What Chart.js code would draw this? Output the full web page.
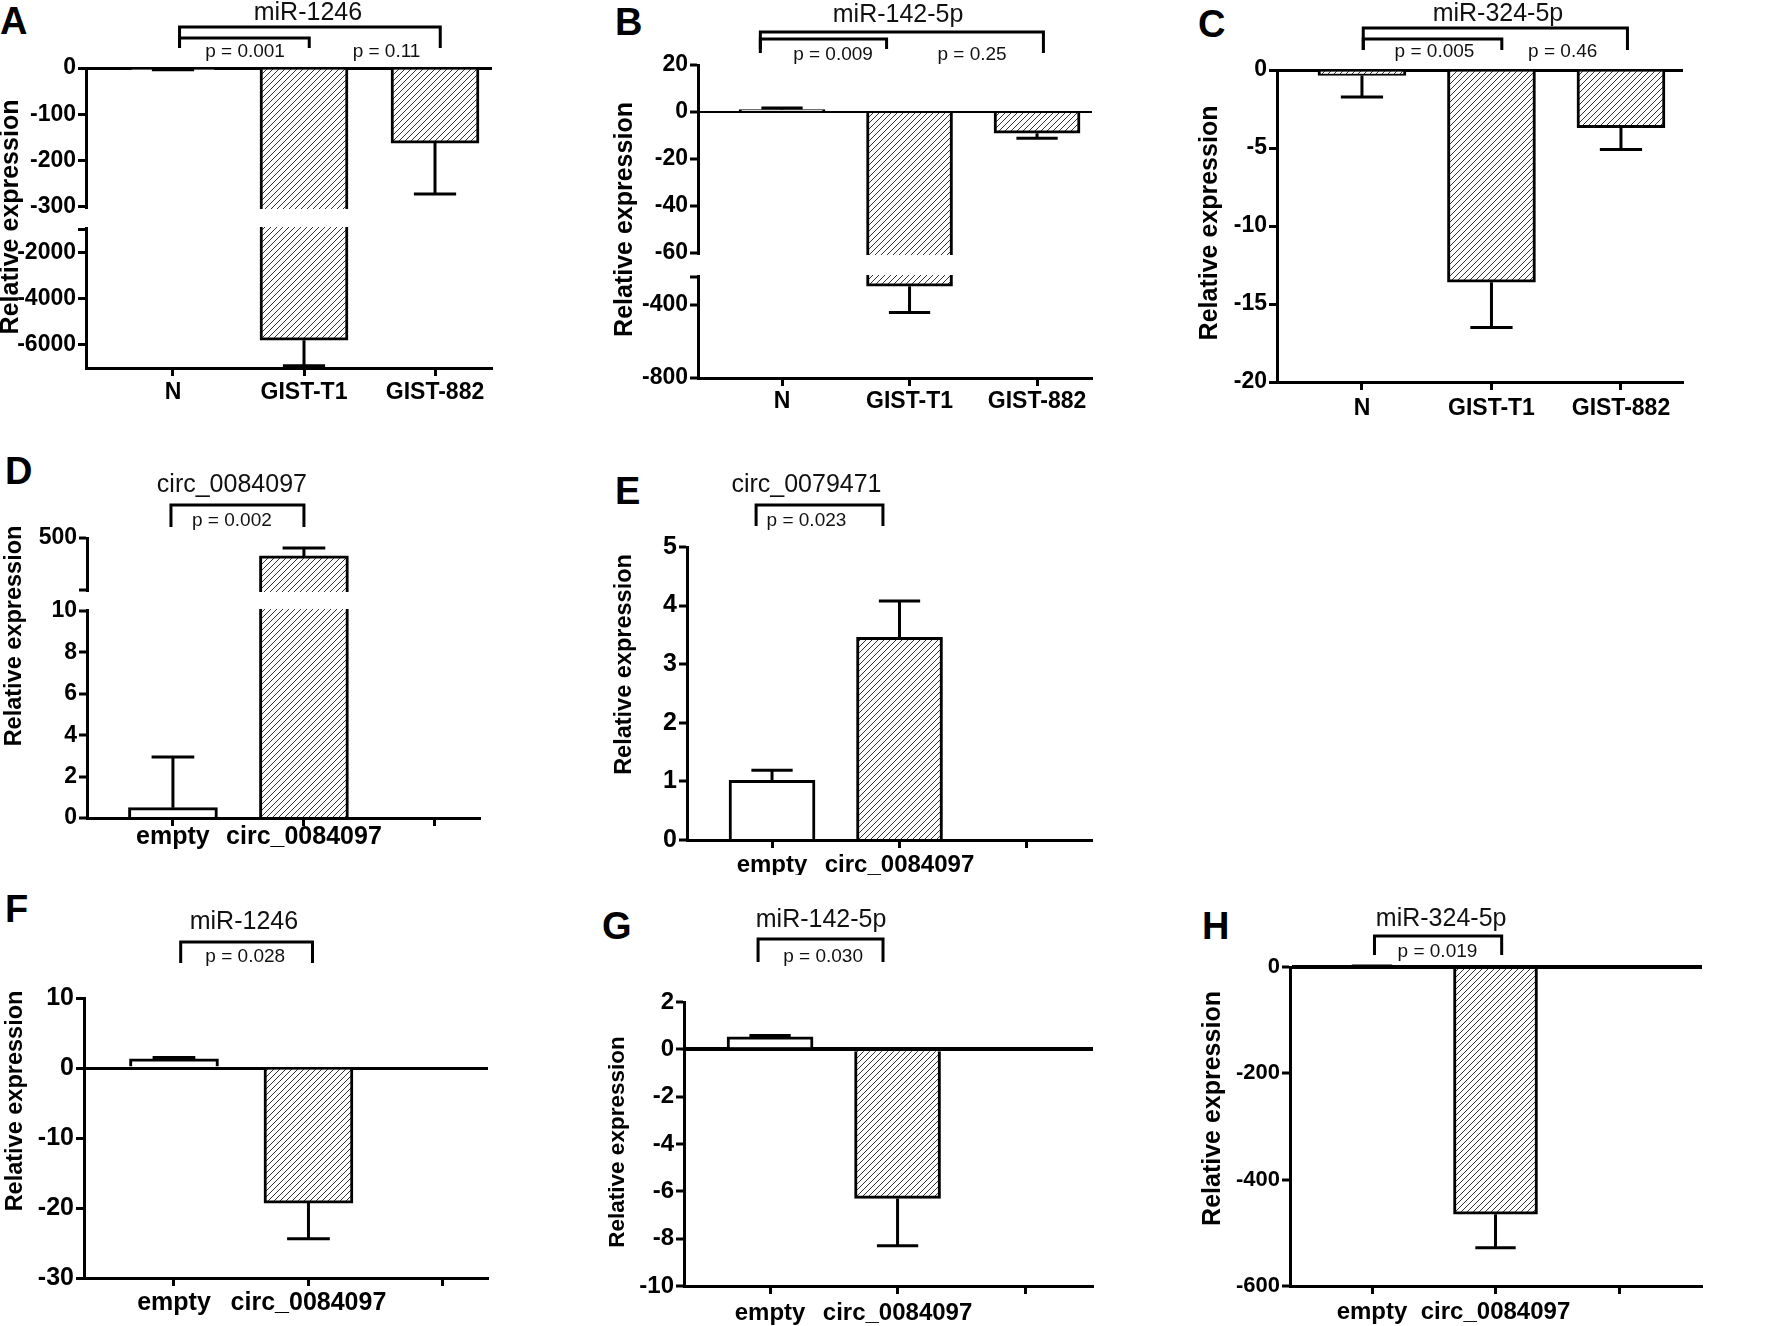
<!DOCTYPE html>
<html lang="en">
<head>
<meta charset="UTF-8">
<title>Relative expression panels</title>
<script src="https://cdn.jsdelivr.net/npm/chart.js"></script>
<style>
  body { margin: 0; background: #fff; width: 1772px; height: 1326px; position: relative; overflow: hidden; font-family: 'Liberation Sans', Arial, sans-serif; }
  canvas { position: absolute; }
  .tag { position: absolute; font-weight: bold; font-size: 38px; line-height: 1; color: #000; }
</style>
</head>
<body>
<div class="tag" style="left:0px;top:2px">A</div>
<div class="tag" style="left:615px;top:3px">B</div>
<div class="tag" style="left:1198px;top:5px">C</div>
<div class="tag" style="left:5px;top:452px">D</div>
<div class="tag" style="left:615px;top:472px">E</div>
<div class="tag" style="left:5px;top:890px">F</div>
<div class="tag" style="left:602px;top:907px">G</div>
<div class="tag" style="left:1202px;top:907px">H</div>
<script>
const FONT = "'Liberation Sans', Arial, sans-serif";

// categories
const catsGIST = ['N', 'GIST-T1', 'GIST-882'];
const catsCirc = ['empty', 'circ_0084097', ''];

// A  miR-1246 in cell lines
const meanA = [-3, -5800, -162];
const errA = [1, 1100, 110];
const yTicksA = [0, -100, -200, -300, -1000, -2000, -4000, -6000];
const yLabelsA = ['0', '-100', '-200', '-300', '', '-2000', '-4000', '-6000'];

// B  miR-142-5p in cell lines
const meanB = [1, -300, -9];
const errB = [0.7, 143, 2.2];
const yTicksB = [20, 0, -20, -40, -60, -250, -400, -800];
const yLabelsB = ['20', '0', '-20', '-40', '-60', '', '-400', '-800'];

// C  miR-324-5p in cell lines
const meanC = [-0.35, -13.6, -3.7];
const errC = [1.38, 2.9, 1.4];
const yTicksC = [0, -5, -10, -15, -20];
const yLabelsC = ['0', '-5', '-10', '-15', '-20'];

// D  circ_0084097 after overexpression
const meanD = [0.5, 362];
const errD = [2.45, 61];
const yTicksD = [0, 2, 4, 6, 8, 10, 100, 500];
const yLabelsD = ['0', '2', '4', '6', '8', '10', '', '500'];

// E  circ_0079471
const meanE = [1.02, 3.46];
const errE = [0.17, 0.62];
const yTicksE = [0, 1, 2, 3, 4, 5];
const yLabelsE = ['0', '1', '2', '3', '4', '5'];

// F  miR-1246
const meanF = [1.3, -19.3];
const errF = [0.2, 5.1];
const yTicksF = [10, 0, -10, -20, -30];
const yLabelsF = ['10', '0', '-10', '-20', '-30'];

// G  miR-142-5p
const meanG = [0.53, -6.3];
const errG = [0.05, 2.0];
const yTicksG = [2, 0, -2, -4, -6, -8, -10];
const yLabelsG = ['2', '0', '-2', '-4', '-6', '-8', '-10'];

// H  miR-324-5p
const meanH = [1, -465];
const errH = [1, 63];
const yTicksH = [0, -200, -400, -600];
const yLabelsH = ['0', '-200', '-400', '-600'];

// panel layout: box/area in page px, brackets [x0, x1 (category units), dy, dyEnd]
const panels = [
  { id: 'A', box: [0, 0, 590, 430], area: [86, 68, 492, 368], cats: catsGIST, mean: meanA, err: errA,
    yTicks: yTicksA, yLabels: yLabelsA, map: [[-7000, 0], [-1000, 0.4633], [-300, 0.5367], [0, 1]], gap: [-1000, -300],
    xRange: [0.336, 3.435], barW: 88, fills: ['#fff', 'hatch', 'hatch'], tickFont: 23, catFont: 23, catPad: 5, zeroW: 3,
    title: 'miR-1246', titleX: 2.03, titleDy: -55,
    brackets: [[1.05, 3.04, -41, -20], [1.05, 2.04, -30, -20]],
    pvals: [['p = 0.001', 1.55, -16], ['p = 0.11', 2.63, -16]], yTitle: [-75, -1, 25] },
  { id: 'B', box: [590, 0, 590, 430], area: [698, 65, 1092, 378], cats: catsGIST, mean: meanB, err: errB,
    yTicks: yTicksB, yLabels: yLabelsB, map: [[-800, 0], [-250, 0.3227], [-60, 0.3994], [20, 1]], gap: [-250, -60],
    xRange: [0.341, 3.431], barW: 86, fills: ['#d9d9d9', 'hatch', 'hatch'], tickFont: 23, catFont: 23, catPad: 4, zeroW: 2,
    title: 'miR-142-5p', titleX: 1.91, titleDy: -50,
    brackets: [[0.83, 3.05, -33, -12], [0.83, 1.82, -26, -16]],
    pvals: [['p = 0.009', 1.40, -10], ['p = 0.25', 2.49, -10]], yTitle: [-73, -2, 25] },
  { id: 'C', box: [1180, 0, 592, 430], area: [1277, 70, 1683, 382], cats: catsGIST, mean: meanC, err: errC,
    yTicks: yTicksC, yLabels: yLabelsC, map: [[-20, 0], [0, 1]], gap: null,
    xRange: [0.344, 3.479], barW: 88, fills: ['hatch', 'hatch', 'hatch'], tickFont: 23, catFont: 23, catPad: 7, zeroW: 3,
    title: 'miR-324-5p', titleX: 2.05, titleDy: -56,
    brackets: [[1.01, 3.05, -42, -20], [1.01, 2.08, -31, -20]],
    pvals: [['p = 0.005', 1.56, -18], ['p = 0.46', 2.55, -18]], yTitle: [-67, -3, 25] },
  { id: 'D', box: [0, 430, 590, 445], area: [87, 538, 480, 818], cats: catsCirc, mean: meanD, err: errD,
    yTicks: yTicksD, yLabels: yLabelsD, map: [[0, 0], [10, 0.7393], [100, 0.8143], [500, 1]], gap: [10, 100],
    xRange: [0.344, 3.344], barW: 89, fills: ['#fff', 'hatch'], tickFont: 23, catFont: 25, catPad: -1, zeroW: 2,
    title: 'circ_0084097', titleX: 1.45, titleDy: -53,
    brackets: [[0.985, 2.0, -33, -11]],
    pvals: [['p = 0.002', 1.45, -17]], yTitle: [-72, -42, 23.5] },
  { id: 'E', box: [590, 430, 590, 445], area: [687, 547, 1092, 840], cats: catsCirc, mean: meanE, err: errE,
    yTicks: yTicksE, yLabels: yLabelsE, map: [[0, 0], [5, 1]], gap: null,
    xRange: [0.333, 3.51], barW: 86, fills: ['#fff', 'hatch'], tickFont: 25, catFont: 24, catPad: 5, zeroW: 2,
    title: 'circ_0079471', titleX: 1.27, titleDy: -62,
    brackets: [[0.875, 1.87, -42, -21]],
    pvals: [['p = 0.023', 1.27, -26]], yTitle: [-62, -29, 23.5] },
  { id: 'F', box: [0, 875, 590, 451], area: [84, 998, 488, 1278], cats: catsCirc, mean: meanF, err: errF,
    yTicks: yTicksF, yLabels: yLabelsF, map: [[-30, 0], [10, 1]], gap: null,
    xRange: [0.331, 3.335], barW: 89, fills: ['#fff', 'hatch'], tickFont: 25, catFont: 25, catPad: 5, zeroW: 3,
    title: 'miR-1246', titleX: 1.52, titleDy: -76,
    brackets: [[1.05, 2.03, -56, -35]],
    pvals: [['p = 0.028', 1.53, -41]], yTitle: [-68, -37, 23.5] },
  { id: 'G', box: [590, 875, 590, 451], area: [684, 1002, 1093, 1286], cats: catsCirc, mean: meanG, err: errG,
    yTicks: yTicksG, yLabels: yLabelsG, map: [[-10, 0], [2, 1]], gap: null,
    xRange: [0.325, 3.533], barW: 86, fills: ['#fff', 'hatch'], tickFont: 24, catFont: 24, catPad: 7, zeroW: 4,
    title: 'miR-142-5p', titleX: 1.40, titleDy: -82,
    brackets: [[0.906, 1.886, -63, -40]],
    pvals: [['p = 0.030', 1.416, -45]], yTitle: [-66, -2, 22.5] },
  { id: 'H', box: [1180, 875, 592, 451], area: [1290, 967, 1702, 1286], cats: catsCirc, mean: meanH, err: errH,
    yTicks: yTicksH, yLabels: yLabelsH, map: [[-600, 0], [0, 1]], gap: null,
    xRange: [0.336, 3.672], barW: 84, fills: ['#fff', 'hatch'], tickFont: 22, catFont: 24, catPad: 6, zeroW: 4,
    title: 'miR-324-5p', titleX: 1.56, titleDy: -48,
    brackets: [[1.02, 2.05, -31, -12]],
    pvals: [['p = 0.019', 1.53, -15]], yTitle: [-77, -18, 25] }
];

// piecewise linear value axis (for the broken axes)
function toDecimal(map, v) {
  for (let i = 0; i < map.length - 1; i++) {
    if (v <= map[i + 1][0] || i === map.length - 2) {
      const [v0, d0] = map[i], [v1, d1] = map[i + 1];
      return d0 + (v - v0) / (v1 - v0) * (d1 - d0);
    }
  }
}
function fromDecimal(map, d) {
  for (let i = 0; i < map.length - 1; i++) {
    if (d <= map[i + 1][1] || i === map.length - 2) {
      const [v0, d0] = map[i], [v1, d1] = map[i + 1];
      return v0 + (d - d0) / (d1 - d0) * (v1 - v0);
    }
  }
}
class BrokenScale extends Chart.LinearScale {
  static id = 'broken';
  getPixelForValue(value) {
    if (!this.$map) return super.getPixelForValue(value);
    return this.getPixelForDecimal(toDecimal(this.$map, value));
  }
  getValueForPixel(pixel) {
    if (!this.$map) return super.getValueForPixel(pixel);
    return fromDecimal(this.$map, this.getDecimalForPixel(pixel));
  }
}
Chart.register(BrokenScale);

function makeHatch() {
  const c = document.createElement('canvas');
  c.width = c.height = 6;
  const g = c.getContext('2d');
  g.fillStyle = '#fff';
  g.fillRect(0, 0, 6, 6);
  g.strokeStyle = '#333';
  g.lineWidth = 1;
  g.beginPath();
  g.moveTo(0, 6); g.lineTo(6, 0);
  g.moveTo(-1, 1); g.lineTo(1, -1);
  g.moveTo(5, 7); g.lineTo(7, 5);
  g.stroke();
  return g.createPattern(c, 'repeat');
}
const hatch = makeHatch();

function annotPlugin(p) {
  return {
    id: 'annot' + p.id,
    afterDatasetsDraw(chart) {
      const { ctx, chartArea: a } = chart;
      const x = chart.scales.x, y = chart.scales.y;
      ctx.save();
      // white band for the axis break
      if (p.gap) {
        const yTop = y.getPixelForValue(p.gap[1]) + 2;
        const yBot = y.getPixelForValue(p.gap[0]) - 2;
        ctx.fillStyle = '#fff';
        ctx.fillRect(a.left - 3, yTop, a.right - a.left + 3, yBot - yTop);
      }
      // one-sided SEM bars
      ctx.strokeStyle = '#000';
      ctx.lineWidth = 3;
      ctx.lineCap = 'butt';
      chart.getDatasetMeta(0).data.forEach((bar, i) => {
        const m = p.mean[i], e = p.err[i];
        const y0 = y.getPixelForValue(m);
        const y1 = y.getPixelForValue(m < 0 ? m - e : m + e);
        const half = bar.width * 0.24;
        ctx.beginPath();
        ctx.moveTo(bar.x, y0); ctx.lineTo(bar.x, y1);
        ctx.moveTo(bar.x - half, y1); ctx.lineTo(bar.x + half, y1);
        ctx.stroke();
      });
      // comparison brackets
      ctx.lineJoin = 'miter';
      p.brackets.forEach(([u0, u1, dy, dEnd]) => {
        const x0 = x.getPixelForValue(u0), x1 = x.getPixelForValue(u1);
        ctx.beginPath();
        ctx.moveTo(x0, a.top + dEnd);
        ctx.lineTo(x0, a.top + dy);
        ctx.lineTo(x1, a.top + dy);
        ctx.lineTo(x1, a.top + dEnd);
        ctx.stroke();
      });
      ctx.fillStyle = '#111';
      ctx.textAlign = 'center';
      ctx.textBaseline = 'middle';
      ctx.font = '19px ' + FONT;
      p.pvals.forEach(([txt, u, dy]) => ctx.fillText(txt, x.getPixelForValue(u), a.top + dy));
      ctx.font = '25px ' + FONT;
      ctx.fillText(p.title, x.getPixelForValue(p.titleX), a.top + p.titleDy);
      // y axis title
      const [dx, dyy, fs] = p.yTitle;
      ctx.translate(a.left + dx, (a.top + a.bottom) / 2 + dyy);
      ctx.rotate(-Math.PI / 2);
      ctx.fillStyle = '#000';
      ctx.font = 'bold ' + fs + 'px ' + FONT;
      ctx.fillText('Relative expression', 0, 0);
      ctx.restore();
    }
  };
}

function makeChart(p) {
  const [bx, by, bw, bh] = p.box;
  const [al, at, ar, ab] = p.area;
  const cv = document.createElement('canvas');
  cv.width = bw; cv.height = bh;
  cv.style.left = bx + 'px'; cv.style.top = by + 'px';
  cv.style.width = bw + 'px'; cv.style.height = bh + 'px';
  document.body.appendChild(cv);

  new Chart(cv, {
    type: 'bar',
    data: {
      datasets: [{
        data: p.mean.map((v, i) => ({ x: i + 1, y: v })),
        backgroundColor: p.fills.map(f => f === 'hatch' ? hatch : f),
        borderColor: '#000',
        borderWidth: 3,
        barThickness: p.barW
      }]
    },
    options: {
      responsive: false,
      animation: false,
      devicePixelRatio: 1,
      layout: { autoPadding: false, padding: { left: 0, top: at - by, right: bx + bw - ar, bottom: 0 } },
      plugins: { legend: { display: false }, tooltip: { enabled: false }, title: { display: false } },
      scales: {
        x: {
          type: 'linear', min: p.xRange[0], max: p.xRange[1], offset: false,
          afterFit: s => { s.height = by + bh - ab; },
          afterBuildTicks: s => { s.ticks = p.cats.map((c, i) => ({ value: i + 1 })); },
          grid: { display: true, drawOnChartArea: false, offset: false, tickLength: 8, tickColor: '#000', tickWidth: 3 },
          border: { display: true, color: '#000', width: 3 },
          ticks: {
            autoSkip: false, maxRotation: 0, minRotation: 0, padding: p.catPad, color: '#000',
            font: { family: FONT, size: p.catFont, weight: 'bold', lineHeight: 1 },
            callback: v => p.cats[Math.round(v) - 1] || ''
          }
        },
        y: {
          type: 'broken', min: p.map[0][0], max: p.map[p.map.length - 1][0],
          afterFit: s => { s.width = al - bx; },
          afterBuildTicks: s => { s.$map = p.map; s.ticks = p.yTicks.map(v => ({ value: v })); },
          grid: {
            drawOnChartArea: true,
            color: c => (c.tick && c.tick.value === 0) ? '#000' : 'rgba(0,0,0,0)',
            lineWidth: p.zeroW,
            tickColor: '#000', tickWidth: 3, tickLength: 8
          },
          border: { display: true, color: '#000', width: 3 },
          ticks: {
            autoSkip: false, padding: 2, color: '#000',
            font: { family: FONT, size: p.tickFont, weight: 'bold', lineHeight: 1 },
            callback: (v, i) => p.yLabels[i]
          }
        }
      }
    },
    plugins: [annotPlugin(p)]
  });
}

panels.forEach(makeChart);
</script>
</body>
</html>
